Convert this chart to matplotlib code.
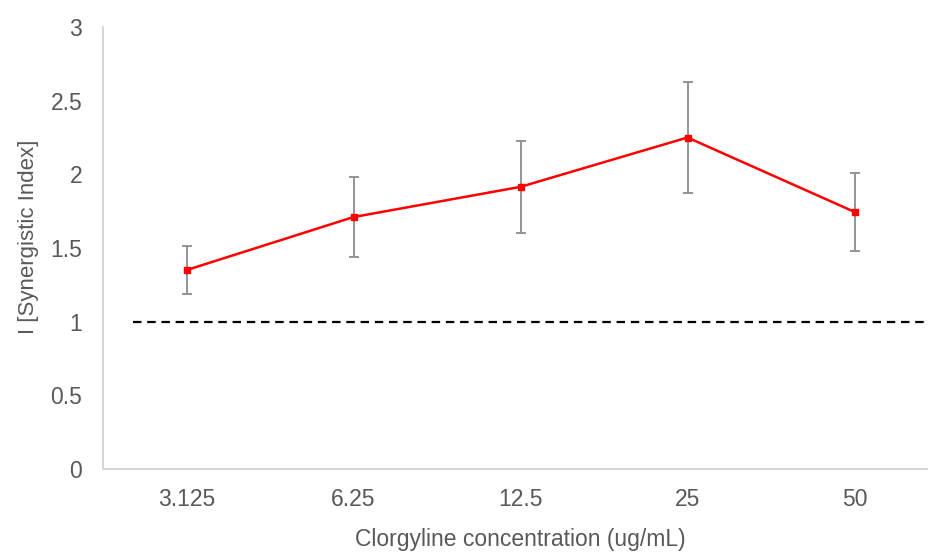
import matplotlib
matplotlib.use("Agg")
import matplotlib.pyplot as plt
import numpy as np

# データ（画像から読み取った推定値）
concentrations = ["3.125", "6.25", "12.5", "25", "50"]
synergy_index = [1.35, 1.71, 1.915, 2.25, 1.745]
synergy_err = [0.165, 0.27, 0.31, 0.375, 0.265]
threshold = 1.0
y_ticks = [0, 0.5, 1, 1.5, 2, 2.5, 3]
y_tick_labels = ["0", "0.5", "1", "1.5", "2", "2.5", "3"]

plt.rcParams["font.family"] = ["Liberation Sans", "DejaVu Sans"]
text_color = "#595959"

fig = plt.figure(figsize=(9.29, 5.53), dpi=100)
ax = fig.add_axes([103 / 929, 84 / 553, 835 / 929, 442 / 553])

x = np.arange(len(concentrations))
ax.errorbar(x, synergy_index, yerr=synergy_err, fmt="none", ecolor="#8c8c8c",
            elinewidth=1.3, capsize=3.5, capthick=1.3, zorder=2)
ax.plot(x, synergy_index, color="#ff0000", linewidth=1.8, marker="s",
        markersize=4.5, zorder=3)
ax.axhline(threshold, xmin=0.036, xmax=1.0, color="black", linestyle=(0, (3.8, 2.6)),
           linewidth=1.6, zorder=1)

ax.set_xlim(-0.5, len(concentrations) - 0.5)
ax.set_ylim(0, 3)
ax.set_xticks(x)
ax.set_xticklabels(concentrations)
ax.set_yticks(y_ticks)
ax.set_yticklabels(y_tick_labels)
ax.tick_params(axis="both", length=0, labelsize=16.5, labelcolor=text_color)
ax.tick_params(axis="x", pad=14)
ax.tick_params(axis="y", pad=15)

for side in ("top", "right"):
    ax.spines[side].set_visible(False)
for side in ("left", "bottom"):
    ax.spines[side].set_color("#d0d0d0")
    ax.spines[side].set_linewidth(1.2)

ax.set_xlabel("Clorgyline concentration (ug/mL)", fontsize=16.5, color=text_color)
ax.xaxis.set_label_coords(0.5, -0.134)
ax.set_ylabel("I [Synergistic Index]", fontsize=16, color=text_color)
ax.yaxis.set_label_coords(-0.077, 0.525)

fig.savefig("out.png", dpi=100)
